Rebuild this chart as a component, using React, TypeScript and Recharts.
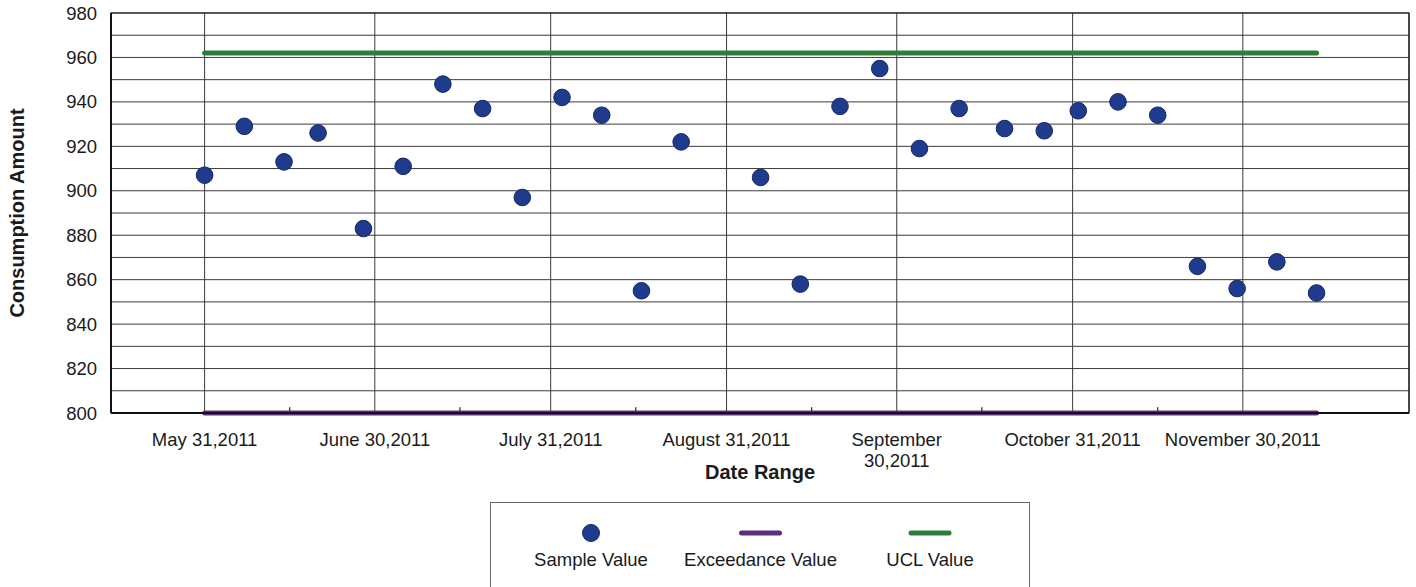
import React from "react";
import {
  ComposedChart,
  Scatter,
  Line,
  XAxis,
  YAxis,
  CartesianGrid,
  ReferenceArea,
  ReferenceLine,
} from "recharts";

// weekly samples (date, consumption amount)
const sampleDates = [
  "2011-05-31", "2011-06-07", "2011-06-14", "2011-06-20", "2011-06-28",
  "2011-07-05", "2011-07-12", "2011-07-19", "2011-07-26", "2011-08-02",
  "2011-08-09", "2011-08-16", "2011-08-23", "2011-09-06", "2011-09-13",
  "2011-09-20", "2011-09-27", "2011-10-04", "2011-10-11", "2011-10-19",
  "2011-10-26", "2011-11-01", "2011-11-08", "2011-11-15", "2011-11-22",
  "2011-11-29", "2011-12-06", "2011-12-13",
];
const sampleValues = [
  907, 929, 913, 926, 883,
  911, 948, 937, 897, 942,
  934, 855, 922, 906, 858,
  938, 955, 919, 937, 928,
  927, 936, 940, 934, 866,
  856, 868, 854,
];
const exceedanceValue = 800;
const uclValue = 962;

// axis setup
const tickDates = [
  "2011-05-31", "2011-06-30", "2011-07-31", "2011-08-31",
  "2011-09-30", "2011-10-31", "2011-11-30",
];
const tickLabels = [
  "May 31,2011", "June 30,2011", "July 31,2011", "August 31,2011",
  "September\n30,2011", "October 31,2011", "November 30,2011",
];
const minorTickDates = [
  "2011-06-15", "2011-07-15", "2011-08-15", "2011-09-15",
  "2011-10-15", "2011-11-15",
];
const xRange = ["2011-05-14T12:00:00Z", "2011-12-29T07:00:00Z"];
const yTicks = [800, 810, 820, 830, 840, 850, 860, 870, 880, 890, 900, 910, 920, 930, 940, 950, 960, 970, 980];

const legendItems = [
  { name: "Sample Value", kind: "dot", color: "#1f3b8e" },
  { name: "Exceedance Value", kind: "line", color: "#5a2f7e" },
  { name: "UCL Value", kind: "line", color: "#2f7d3b" },
];

const FONT = "'Liberation Sans', Arial, Helvetica, sans-serif";
const TEXT = "#1a1a1a";

const toTime = (s: string) => Date.parse(s.length === 10 ? s + "T00:00:00Z" : s);

const tickTimes = tickDates.map(toTime);
const minorTimes = minorTickDates.map(toTime);
const xDomain = xRange.map(toTime);
const labelByTime = new Map(tickTimes.map((t, i) => [t, tickLabels[i]]));

const rows = sampleDates.map((d, i) => ({
  t: toTime(d),
  sample: sampleValues[i],
  exceed: exceedanceValue,
  ucl: uclValue,
}));

const DateTick = (props: any) => {
  const { x, y, payload } = props;
  const lines = (labelByTime.get(payload.value) ?? "").split("\n");
  return (
    <text x={x} y={y + 25} textAnchor="middle" fontSize={18.5} fill={TEXT} fontFamily={FONT}>
      {lines.map((l, i) => (
        <tspan key={i} x={x} dy={i === 0 ? 0 : 21}>
          {l}
        </tspan>
      ))}
    </text>
  );
};

const YTitle = (props: any) => {
  const vb = props.viewBox || { x: 0, y: 13, width: 111, height: 400 };
  const cx = vb.x + 17;
  const cy = vb.y + vb.height / 2;
  return (
    <text
      x={cx}
      y={cy}
      transform={`rotate(-90 ${cx} ${cy})`}
      textAnchor="middle"
      dominantBaseline="central"
      fontSize={20}
      fontWeight="bold"
      fill={TEXT}
      fontFamily={FONT}
    >
      Consumption Amount
    </text>
  );
};

const XTitle = (props: any) => {
  const vb = props.viewBox || { x: 111, y: 413, width: 1298, height: 80 };
  return (
    <text
      x={vb.x + vb.width / 2}
      y={vb.y + 66}
      textAnchor="middle"
      fontSize={20}
      fontWeight="bold"
      fill={TEXT}
      fontFamily={FONT}
    >
      Date Range
    </text>
  );
};

const SampleDot = (p: any) => (
  <circle cx={p.cx} cy={p.cy} r={8.3} fill="#1f3b8e" stroke="#14275e" strokeWidth={1} />
);

const ChartLegend = () => (
  <div
    style={{
      position: "absolute",
      left: 490,
      top: 502,
      width: 538,
      height: 100,
      border: "1px solid #666",
      background: "#fff",
    }}
  >
    <svg width={538} height={90}>
      {legendItems.map((item, i) => {
        const cx = 100 + i * 169.5;
        return (
          <g key={item.name}>
            {item.kind === "dot" ? (
              <circle cx={cx} cy={30} r={8.5} fill={item.color} stroke="#14275e" />
            ) : (
              <line x1={cx - 19} x2={cx + 19} y1={30} y2={30} stroke={item.color} strokeWidth={5} strokeLinecap="round" />
            )}
            <text x={cx} y={63} textAnchor="middle" fontSize={18.5} fill={TEXT} fontFamily={FONT}>
              {item.name}
            </text>
          </g>
        );
      })}
    </svg>
  </div>
);

export default function App() {
  return (
    <div style={{ position: "absolute", left: 0, top: 0, width: 1416, height: 587, background: "#fff" }}>
      <ComposedChart
        width={1416}
        height={500}
        data={rows}
        margin={{ top: 13, right: 7, left: 0, bottom: 7 }}
      >
        <CartesianGrid stroke="#3a3a3a" strokeWidth={1} />
        <ReferenceArea
          x1={xDomain[0]}
          x2={xDomain[1]}
          y1={800}
          y2={980}
          fill="none"
          stroke="#111"
          strokeWidth={1.2}
          fillOpacity={0}
        />
        <XAxis
          dataKey="t"
          type="number"
          domain={xDomain}
          ticks={tickTimes}
          interval={0}
          tickLine={false}
          axisLine={{ stroke: "#111", strokeWidth: 2 }}
          tick={<DateTick />}
          height={80}
          label={<XTitle />}
        />
        <YAxis
          type="number"
          domain={[800, 980]}
          ticks={yTicks}
          interval={0}
          tickLine={false}
          tickMargin={8}
          width={111}
          axisLine={{ stroke: "#111", strokeWidth: 2 }}
          tickFormatter={(v: number) => (v % 20 === 0 ? String(v) : "")}
          tick={{ fontSize: 18.5, fill: TEXT, fontFamily: FONT }}
          label={<YTitle />}
        />
        {minorTimes.map((t) => (
          <ReferenceLine
            key={t}
            segment={[{ x: t, y: 800 }, { x: t, y: 802.6 }]}
            stroke="#222"
            strokeWidth={1.2}
          />
        ))}
        <Line
          dataKey="exceed"
          stroke="#5a2f7e"
          strokeWidth={5}
          dot={false}
          activeDot={false}
          strokeLinecap="round"
          isAnimationActive={false}
        />
        <Line
          dataKey="ucl"
          stroke="#2f7d3b"
          strokeWidth={5}
          dot={false}
          activeDot={false}
          strokeLinecap="round"
          isAnimationActive={false}
        />
        <Scatter dataKey="sample" shape={<SampleDot />} isAnimationActive={false} />
      </ComposedChart>
      <ChartLegend />
    </div>
  );
}
